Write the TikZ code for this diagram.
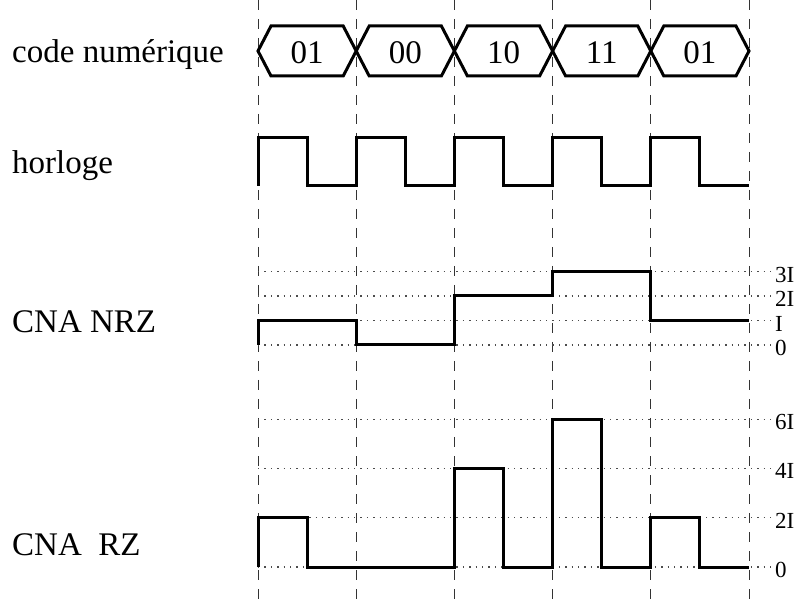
\documentclass[tikz,border=0pt]{standalone}
\usepackage{fontspec}
\setmainfont{Liberation Serif}
\usetikzlibrary{positioning,calc}

\begin{document}
\begin{tikzpicture}[
    x=1pt, y=-1pt,
    guide/.style={dash pattern=on 10pt off 9pt, line width=0.9pt, black!80},
    level/.style={dash pattern=on 1.4pt off 5pt, line width=1.1pt, black!70},
    signal/.style={line width=3pt, line join=miter},
    lbl/.style={anchor=base west, inner sep=0pt, font=\fontsize{33}{39}\selectfont},
    val/.style={anchor=west, inner sep=0pt, font=\fontsize{23}{27}\selectfont},
    bit/.style={inner sep=0pt, font=\fontsize{33}{39}\selectfont},
  ]
  \useasboundingbox (0,0) rectangle (798,601);

  % time marks
  \foreach \i in {0,...,5}
    \draw[guide] ({258+98.2*\i},0) -- ({258+98.2*\i},601);

  % signal names
  \node[lbl] (code) at (12,63) {code numérique};
  \node[lbl] (clk) at (12,174) {horloge};
  \node[lbl] (nrz) at (12,333) {CNA NRZ};
  \node[lbl] (rz) at (12,555) {CNA~~RZ};

  % digital code
  \foreach \b [count=\i from 0] in {01,00,10,11,01} {
    \draw[signal] ({258+98.2*\i},51) -- ({258+98.2*\i+13},26)
      -- ({258+98.2*(\i+1)-13},26) -- ({258+98.2*(\i+1)},51)
      -- ({258+98.2*(\i+1)-13},76) -- ({258+98.2*\i+13},76) -- cycle;
    \node[bit] (bit\i) at ({258+98.2*\i+49.1},53) {\b};
  }

  % clock
  \draw[signal] (258,186) \foreach \i in {0,...,4} {
      -- ({258+98.2*\i},138) -- ({258+98.2*\i+49.1},138)
      -- ({258+98.2*\i+49.1},186) -- ({258+98.2*(\i+1)},186) };

  % NRZ levels
  \foreach \k/\t in {0/0,1/I,2/2I,3/3I} {
    \draw[level] (258,{345-24.5*\k}) -- (771,{345-24.5*\k});
    \node[val] (nrzl\k) at (775,{348-24.5*\k}) {\t};
  }
  \draw[signal] (258,345) \foreach \v [count=\i from 0] in {1,0,2,3,1} {
      -- ({258+98.2*\i},{345-24.5*\v}) -- ({258+98.2*(\i+1)},{345-24.5*\v}) };

  % RZ levels
  \foreach \k/\t in {0/0,1/2I,2/4I,3/6I} {
    \draw[level] (258,{567-49.3*\k}) -- (771,{567-49.3*\k});
    \node[val] (rzl\k) at (775,{570-49.3*\k}) {\t};
  }
  \draw[signal] (258,567) \foreach \v [count=\i from 0] in {1,0,2,3,1} {
      -- ({258+98.2*\i},{567-49.3*\v}) -- ({258+98.2*\i+49.1},{567-49.3*\v})
      -- ({258+98.2*\i+49.1},567) -- ({258+98.2*(\i+1)},567) };
\end{tikzpicture}
\end{document}
